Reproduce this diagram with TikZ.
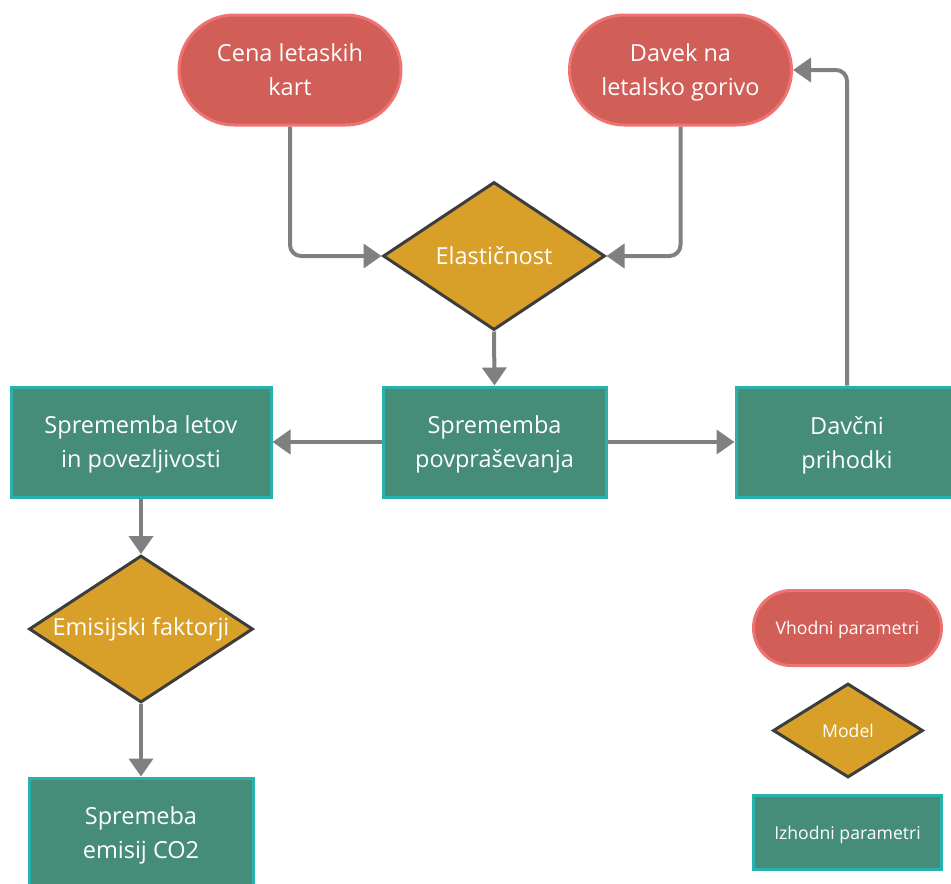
\documentclass[tikz,border=0pt]{standalone}
\usepackage{fontspec}
\setmainfont{Open Sans}
\usetikzlibrary{shapes.geometric,arrows.meta}
\definecolor{redfill}{HTML}{D15E57}
\definecolor{redline}{HTML}{F07373}
\definecolor{tealfill}{HTML}{458C79}
\definecolor{tealline}{HTML}{27B2AE}
\definecolor{goldfill}{HTML}{D8A029}
\definecolor{goldline}{HTML}{3D3D3D}
\definecolor{arrowgray}{HTML}{808080}
\begin{document}
\begin{tikzpicture}[x=1pt,y=-1pt,
  txt/.style={text=white, align=center, font=\fontsize{23.5}{34}\selectfont},
  twoline/.style={txt, text depth=-3pt},
  smalltxt/.style={text=white, align=center, font=\fontsize{17.6}{22}\selectfont, text depth=0pt},
  inbox/.style={draw=redline, fill=redfill, line width=3pt, rectangle, inner sep=0pt},
  outbox/.style={draw=tealline, fill=tealfill, line width=3pt, rectangle, inner sep=0pt},
  modelbox/.style={draw=goldline, fill=goldfill, line width=3pt, diamond, inner sep=0pt},
  conn/.style={draw=arrowgray, line width=4pt, rounded corners=11pt,
    -{Triangle[length=18pt,width=24pt]}}
]
\useasboundingbox (0,0) rectangle (951,884);
\clip (0,0) rectangle (951,884);
% inputs
\node[inbox, twoline, minimum width=222pt, minimum height=110pt, rounded corners=55pt] (cena) at (290,70) {Cena letaskih\\kart};
\node[inbox, twoline, minimum width=222pt, minimum height=110pt, rounded corners=55pt] (davek) at (680.5,70) {Davek na\\letalsko gorivo};
% models
\node[modelbox, minimum width=222pt, minimum height=148pt] (elas) at (494,256) {};
\node[txt] (elastxt) at (elas) {Elastičnost};
% outputs
\node[outbox, twoline, minimum width=223pt, minimum height=110pt] (povp) at (494.5,442) {Sprememba\\povpraševanja};
\node[outbox, twoline, minimum width=260pt, minimum height=110pt] (letov) at (141,442) {Sprememba letov\\in povezljivosti};
\node[outbox, twoline, minimum width=222pt, minimum height=110pt] (davcni) at (847,442) {Davčni\\prihodki};
\node[modelbox, minimum width=224pt, minimum height=147pt] (emis) at (141,629) {};
\node[txt] (emistxt) at (emis) {Emisijski faktorji};
\node[outbox, twoline, minimum width=224pt, minimum height=110pt] (co2) at (141,833) {Spremeba\\emisij CO2};
% legend
\node[inbox, smalltxt, minimum width=188pt, minimum height=75pt, rounded corners=37.5pt] (legin) at (847.5,628) {Vhodni parametri};
\node[modelbox, minimum width=150pt, minimum height=94pt] (legmod) at (848,730.5) {};
\node[smalltxt] (legmodtxt) at (legmod) {Model};
\node[outbox, smalltxt, minimum width=188pt, minimum height=74pt] (legout) at (847.5,832.5) {Izhodni parametri};
% connectors
\draw[conn] (cena.south) |- (elas.west);
\draw[conn] (davek.south) |- (elas.east);
\draw[conn] (elas.south) -- (povp.north);
\draw[conn] (povp.west) -- (letov.east);
\draw[conn] (povp.east) -- (davcni.west);
\draw[conn] (davcni.north) |- (davek.east);
\draw[conn] (letov.south) -- (emis.north);
\draw[conn] (emis.south) -- (co2.north);
\end{tikzpicture}
\end{document}
